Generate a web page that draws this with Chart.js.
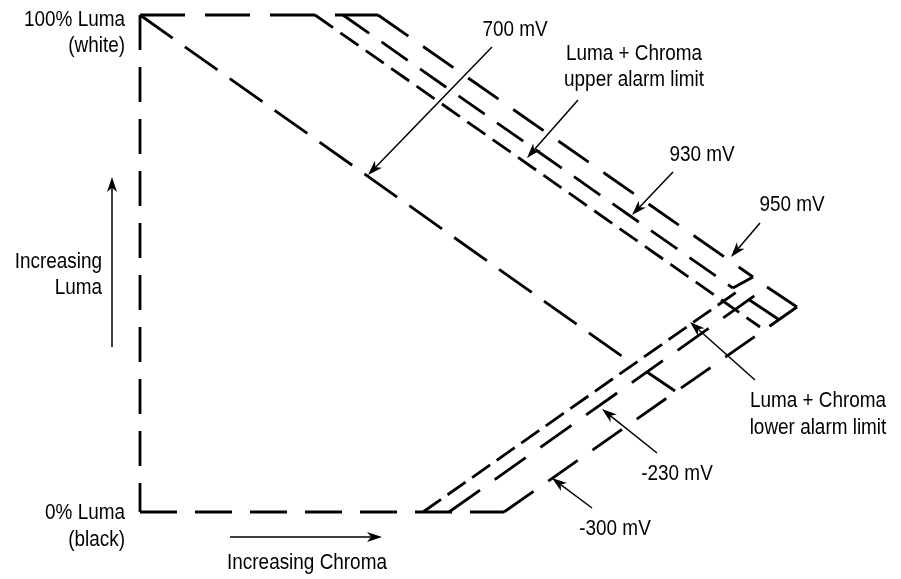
<!DOCTYPE html>
<html>
<head>
<meta charset="utf-8">
<script src="https://cdn.jsdelivr.net/npm/chart.js@4.4.1/dist/chart.umd.min.js"></script>
<style>
  body { margin: 0; background: #fff; }
  #wrap { width: 901px; height: 579px; }
</style>
</head>
<body>
<div id="wrap"><canvas id="chart"></canvas></div>
<script>
'use strict'

// graticule lines, x = chroma position, y = luma position (drawing units)
var leftEdge = [[140, 15], [140, 512]];
var topEdge = [[140, 15], [378, 15]];
var bottomEdge = [[140, 512], [504, 512]];
var line700 = [[140, 15], [630, 362]];
var upperAlarm = [[315, 15], [760, 327]];
var line930 = [[343, 15], [733, 288]];
var line950 = [[378, 15], [753, 277]];
var lowerAlarm = [[423, 512], [738, 291]];
var lineMinus230 = [[449, 512], [767, 287]];
var lineMinus300 = [[504, 512], [797, 307]];
var joins = [
  [[753, 277], [733, 288]],
  [[767, 287], [797, 307]],
  [[647, 372], [675, 391]],
  [[748, 299], [778, 319]]
];

// callout arrows: tail -> tip
var arrowTails = [[492, 47], [578, 100], [673, 172], [760, 223], [755, 380], [657, 453], [592, 508], [112, 347], [230, 537]];
var arrowTips = [[368, 175], [527, 158], [632, 215], [731, 257], [690, 322], [602, 409], [552, 478], [112, 177], [382, 537]];

var labels = ['100% Luma', '(white)', 'Increasing', 'Luma', '0% Luma', '(black)', 'Increasing Chroma',
  '700 mV', 'Luma + Chroma', 'upper alarm limit', '930 mV', '950 mV',
  'Luma + Chroma', 'lower alarm limit', '-230 mV', '-300 mV'];
var labelPos = [[125, 20], [125, 46], [102, 262], [102, 288], [125, 513], [125, 540], [307, 563],
  [515, 30], [634, 54], [634, 80], [702, 155], [792, 205],
  [818, 401], [818, 428], [677, 474], [615, 529]];
var labelAlign = ['right', 'right', 'right', 'right', 'right', 'right', 'center',
  'center', 'center', 'center', 'center', 'center',
  'center', 'center', 'center', 'center'];

function pts(arr) {
  return arr.map(function(p) { return {x: p[0], y: p[1]}; });
}

function seg(arr, dash) {
  return {
    data: pts(arr),
    showLine: true,
    borderColor: '#000',
    borderWidth: 2.8,
    borderDash: dash,
    borderCapStyle: 'butt',
    pointRadius: 0,
    fill: false
  };
}

var datasets = [
  seg(leftEdge, [35, 17]),
  seg(topEdge, [45, 20]),
  seg(bottomEdge, [37, 18]),
  seg(line700, [40, 15]),
  seg(upperAlarm, [22, 9]),
  seg(line930, [32, 15]),
  seg(line950, [37, 18]),
  seg(lowerAlarm, [22, 8]),
  seg(lineMinus230, [38, 18]),
  seg(lineMinus300, [36, 18])
];
for (var i = 0; i < joins.length; i++) {
  datasets.push(seg(joins[i], []));
}

function drawArrow(ctx, x1, y1, x2, y2) {
  var ang = Math.atan2(y2 - y1, x2 - x1);
  var len = 15, half = 5;
  var c = Math.cos(ang), s = Math.sin(ang);
  var bx = x2 - len * c, by = y2 - len * s;
  ctx.beginPath();
  ctx.moveTo(x1, y1);
  ctx.lineTo(x2 - 0.7 * len * c, y2 - 0.7 * len * s);
  ctx.stroke();
  ctx.beginPath();
  ctx.moveTo(x2, y2);
  ctx.lineTo(bx + half * s, by - half * c);
  ctx.lineTo(x2 - 0.72 * len * c, y2 - 0.72 * len * s);
  ctx.lineTo(bx - half * s, by + half * c);
  ctx.closePath();
  ctx.fill();
}

var overlay = {
  id: 'overlay',
  afterDatasetsDraw: function(chart) {
    var ctx = chart.ctx;
    var xs = chart.scales.x, ys = chart.scales.y;
    ctx.save();
    ctx.strokeStyle = '#000';
    ctx.fillStyle = '#000';
    ctx.lineWidth = 1.5;
    for (var i = 0; i < arrowTails.length; i++) {
      drawArrow(ctx,
        xs.getPixelForValue(arrowTails[i][0]), ys.getPixelForValue(arrowTails[i][1]),
        xs.getPixelForValue(arrowTips[i][0]), ys.getPixelForValue(arrowTips[i][1]));
    }
    ctx.font = '22px "Liberation Sans", Arial, sans-serif';
    ctx.textBaseline = 'middle';
    for (var j = 0; j < labels.length; j++) {
      ctx.save();
      ctx.translate(xs.getPixelForValue(labelPos[j][0]), ys.getPixelForValue(labelPos[j][1]));
      ctx.scale(0.86, 1);
      ctx.textAlign = labelAlign[j];
      ctx.fillText(labels[j], 0, 0);
      ctx.restore();
    }
    ctx.restore();
  }
};

var ctx = document.getElementById('chart').getContext('2d');
var chart = new Chart(ctx, {
  type: 'scatter',
  data: { datasets: datasets },
  options: {
    responsive: true,
    maintainAspectRatio: false,
    animation: false,
    layout: { padding: 0 },
    plugins: { legend: { display: false }, tooltip: { enabled: false } },
    scales: {
      x: { type: 'linear', min: 0, max: 901, display: false },
      y: { type: 'linear', min: 0, max: 579, reverse: true, display: false }
    }
  },
  plugins: [overlay]
});
</script>
</body>
</html>
